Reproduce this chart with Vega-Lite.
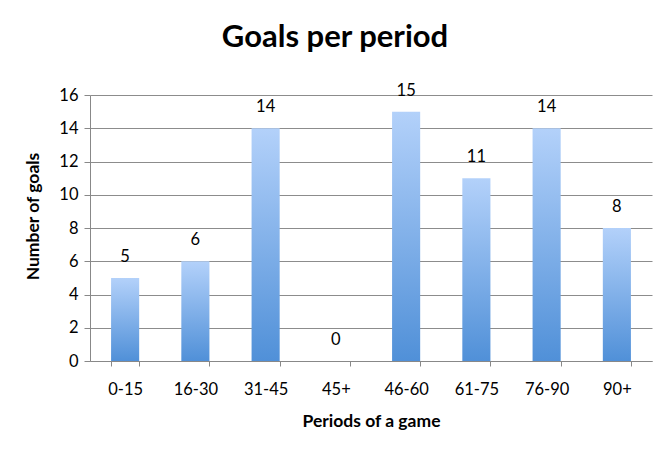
{
  "$schema": "https://vega.github.io/schema/vega-lite/v6.json",
  "autosize": "none",
  "width": 562,
  "height": 266,
  "padding": {"left": 90, "top": 95, "right": 18, "bottom": 97},
  "background": "white",
  "title": {"text": "Goals per period", "font": "Lato", "fontSize": 31, "fontWeight": "bold", "color": "black", "anchor": "middle", "offset": 29, "dx": -36},
  "config": {"view": {"stroke": null}, "font": "Lato"},
  "data": {"values": [
    {"period": "0-15", "goals": 5},
    {"period": "16-30", "goals": 6},
    {"period": "31-45", "goals": 14},
    {"period": "45+", "goals": 0},
    {"period": "46-60", "goals": 15},
    {"period": "61-75", "goals": 11},
    {"period": "76-90", "goals": 14},
    {"period": "90+", "goals": 8}
  ]},
  "encoding": {
    "x": {"field": "period", "type": "nominal", "sort": null,
      "scale": {"paddingInner": 0.6, "paddingOuter": 0.3},
      "axis": {"title": "Periods of a game", "labelAngle": 0, "labelFont": "Lato", "labelFontSize": 16.5, "labelColor": "black", "labelPadding": 15, "titleFont": "Lato", "titleFontSize": 17.5, "titleFontWeight": "bold", "titleColor": "black", "titlePadding": 15, "domainColor": "#888888", "tickColor": "#888888", "tickBand": "extent", "tickSize": 5, "grid": false}},
    "y": {"field": "goals", "type": "quantitative",
      "scale": {"domain": [0, 16]},
      "axis": {"title": "Number of goals", "titleY": 121, "values": [0,2,4,6,8,10,12,14,16], "labelFont": "Lato", "labelFontSize": 16.5, "labelColor": "black", "labelPadding": 6, "titleFont": "Lato", "titleFontSize": 17.5, "titleFontWeight": "bold", "titleColor": "black", "titlePadding": 16, "domainColor": "#888888", "tickColor": "#888888", "tickSize": 6, "gridColor": "#8c8c8c", "gridWidth": 1}}
  },
  "layer": [
    {"mark": {"type": "bar", "color": {"gradient": "linear", "x1": 0, "y1": 0, "x2": 0, "y2": 1, "stops": [{"offset": 0, "color": "#b3d1fa"}, {"offset": 1, "color": "#5090d8"}]}}},
    {"mark": {"type": "text", "dy": -21, "font": "Lato", "fontSize": 16.5, "color": "black"},
     "encoding": {"text": {"field": "goals", "type": "quantitative"}}}
  ]
}
